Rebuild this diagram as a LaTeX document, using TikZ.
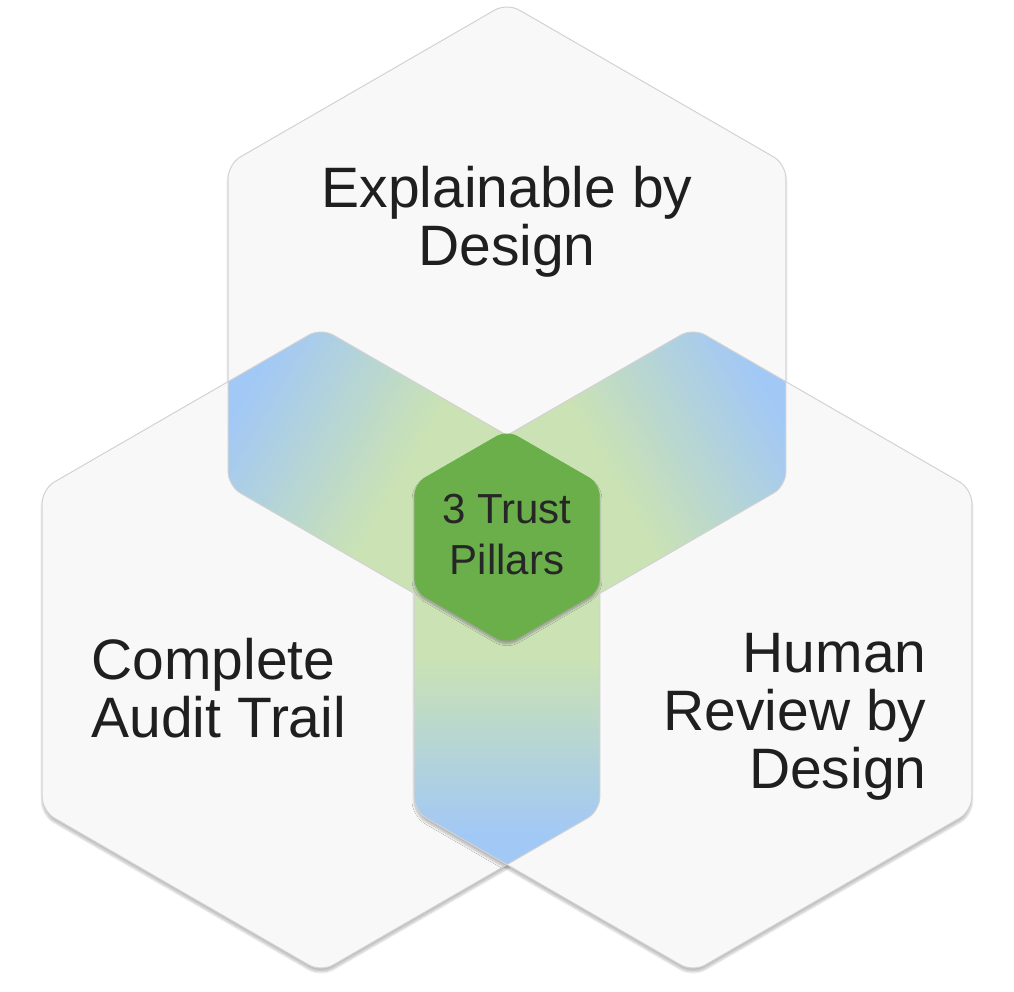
\documentclass[tikz,border=0pt]{standalone}
\usepackage{fontspec}
\setmainfont{Liberation Sans}
\usetikzlibrary{shadows.blur}
\definecolor{hexfill}{HTML}{F8F8F8}
\definecolor{hexline}{HTML}{D2D2D2}
\definecolor{bandblue}{HTML}{A2C8F6}
\definecolor{bandgreen}{HTML}{CAE2B4}
\definecolor{pillar}{HTML}{6AAF4A}
\tikzset{x=1pt,y=1pt,
  hexpath/.style={rounded corners=14pt},
  bigtext/.style={font=\fontsize{57}{58}\selectfont, text=black!88},
  smalltext/.style={font=\fontsize{42}{51}\selectfont, text=black!85, align=center}}
\newcommand{\hexat}[2]{(#1)+(90:#2) -- +(30:#2) -- +(-30:#2) -- +(-90:#2) -- +(-150:#2) -- +(150:#2) -- cycle}
\newcommand{\bandgrad}[1]{%
  \begin{scope}[shift={(C)}, rotate=#1]
    \fill[bandgreen] (-20,-300) rectangle (120.5,300);
    \foreach \i in {0,...,44}{
      \pgfmathsetmacro{\p}{\i*100/44}
      \fill[bandblue!\p!bandgreen] (120+\i*4,-300) rectangle (124.8+\i*4,300);
    }
    \fill[bandblue] (299,-300) rectangle (360,300);
  \end{scope}}
\begin{document}
\begin{tikzpicture}
\useasboundingbox (0,0) rectangle (1014,991);
\coordinate (T) at (507,666);
\coordinate (L) at (321,341);
\coordinate (R) at (693,341);
\coordinate (C) at (507,454);
\foreach \c in {T,L,R}{
  \fill[hexfill, hexpath, blur shadow={shadow blur steps=8, shadow xshift=0pt, shadow yshift=-4pt, shadow opacity=25}] \hexat{\c}{322};
}
\begin{scope}
  \clip[hexpath] \hexat{T}{322};
  \clip[hexpath] \hexat{L}{322};
  \bandgrad{150}
\end{scope}
\begin{scope}
  \clip[hexpath] \hexat{T}{322};
  \clip[hexpath] \hexat{R}{322};
  \bandgrad{30}
\end{scope}
\begin{scope}
  \clip[hexpath] \hexat{L}{322};
  \clip[hexpath] \hexat{R}{322};
  \bandgrad{-90}
\end{scope}
\foreach \c in {T,L,R}{
  \draw[hexline, line width=1pt, hexpath] \hexat{\c}{322};
}
\fill[pillar, rounded corners=12pt, blur shadow={shadow blur steps=8, shadow xshift=0pt, shadow yshift=-3pt, shadow opacity=30}] \hexat{C}{107};
\node[smalltext] (c) at (507,456) {3 Trust\\Pillars};
\node[bigtext, align=center] (t) at (507,769) {Explainable by\\Design};
\node[bigtext, align=left, anchor=west] (l) at (88,303) {Complete\\Audit Trail};
\node[bigtext, align=right, anchor=east] (r) at (930,274) {Human\\Review by\\Design};
\end{tikzpicture}
\end{document}
